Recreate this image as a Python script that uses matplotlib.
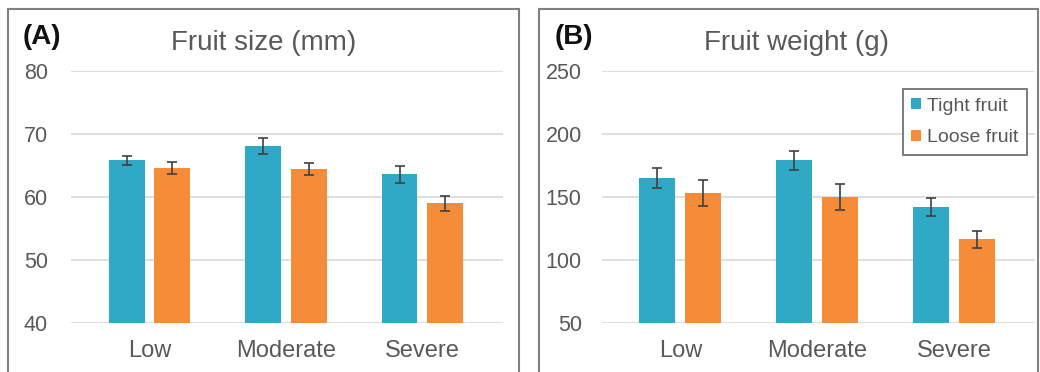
import matplotlib
matplotlib.use("Agg")
import matplotlib.pyplot as plt
from matplotlib.patches import Rectangle, Patch
import numpy as np

plt.rcParams['font.family'] = ['Liberation Sans', 'DejaVu Sans']

categories = ["Low", "Moderate", "Severe"]
series_names = ["Tight fruit", "Loose fruit"]

size_tight = [65.8, 68.1, 63.6]
size_tight_err = [0.75, 1.2, 1.35]
size_loose = [64.6, 64.4, 59.0]
size_loose_err = [1.0, 0.95, 1.15]

weight_tight = [165.0, 179.0, 142.0]
weight_tight_err = [8.0, 7.8, 7.0]
weight_loose = [153.0, 150.0, 116.5]
weight_loose_err = [10.5, 10.3, 6.8]

size_ticks = [40, 50, 60, 70, 80]
weight_ticks = [50, 100, 150, 200, 250]

TEAL = "#2FA9C6"
ORANGE = "#F68B38"
TXT = "#595959"
GRID = "#D9D9D9"
FRAME = "#808080"
ERR = "#404040"

W, H = 1040, 372
fig = plt.figure(figsize=(W / 100, H / 100), dpi=100)

def px_axes(left, right, top, bottom):
    return fig.add_axes([left / W, 1 - bottom / H, (right - left) / W, (bottom - top) / H])

# panel frames
for (x0, x1) in [(7.5, 518.5), (539, 1038)]:
    fig.patches.append(Rectangle((x0 / W, -0.05), (x1 - x0) / W, 1.05 - 9 / H,
                                 transform=fig.transFigure, fill=False,
                                 edgecolor=FRAME, linewidth=1.5, zorder=0))

def draw(ax, tight, terr, loose, lerr, ticks, ypad):
    x = np.arange(len(categories))
    bw = 0.263
    off = 0.168
    ekw = dict(ecolor=ERR, elinewidth=1.2, capsize=3.3, capthick=1.2)
    ax.bar(x - off, tight, bw, color=TEAL, yerr=terr, error_kw=ekw, zorder=3, label=series_names[0])
    ax.bar(x + off, loose, bw, color=ORANGE, yerr=lerr, error_kw=ekw, zorder=3, label=series_names[1])
    ax.set_xlim(-0.575, 2.59)
    ax.set_ylim(ticks[0], ticks[-1])
    ax.set_yticks(ticks)
    ax.set_xticks(x)
    ax.set_xticklabels(categories, fontsize=17, color=TXT)
    ax.tick_params(axis='y', length=0, pad=ypad, labelsize=15.5, labelcolor=TXT)
    ax.tick_params(axis='x', length=0, pad=12)
    ax.grid(axis='y', color=GRID, linewidth=1.2, zorder=0)
    ax.set_axisbelow(True)
    for s in ax.spines.values():
        s.set_visible(False)
    ax.patch.set_alpha(0)

axA = px_axes(71, 503, 71, 323)
draw(axA, size_tight, size_tight_err, size_loose, size_loose_err, size_ticks, 16.5)
axB = px_axes(601.7, 1035, 71, 323)
draw(axB, weight_tight, weight_tight_err, weight_loose, weight_loose_err, weight_ticks, 14.4)

# titles and panel letters
fig.text(264 / W, 1 - 50 / H, "Fruit size (mm)", fontsize=20, color=TXT, ha='center', va='baseline')
fig.text(796 / W, 1 - 50 / H, "Fruit weight (g)", fontsize=20, color=TXT, ha='center', va='baseline')
fig.text(23 / W, 1 - 44 / H, "(A)", fontsize=20, fontweight='bold', color='#111111', ha='left', va='baseline')
fig.text(555 / W, 1 - 44 / H, "(B)", fontsize=20, fontweight='bold', color='#111111', ha='left', va='baseline')

handles = [Patch(facecolor=TEAL, edgecolor='none'), Patch(facecolor=ORANGE, edgecolor='none')]
leg = fig.legend(handles, series_names, loc='upper right',
                 bbox_to_anchor=(1027 / W, 1 - 89 / H), bbox_transform=fig.transFigure,
                 fontsize=14, frameon=True, fancybox=False, handlelength=0.5, handleheight=0.5,
                 handletextpad=0.3, borderpad=0.45, labelspacing=0.75, borderaxespad=0)
leg.get_frame().set_edgecolor('#505050')
leg.get_frame().set_linewidth(1.3)
for t in leg.get_texts():
    t.set_color(TXT)

fig.savefig("out.png", dpi=100)
